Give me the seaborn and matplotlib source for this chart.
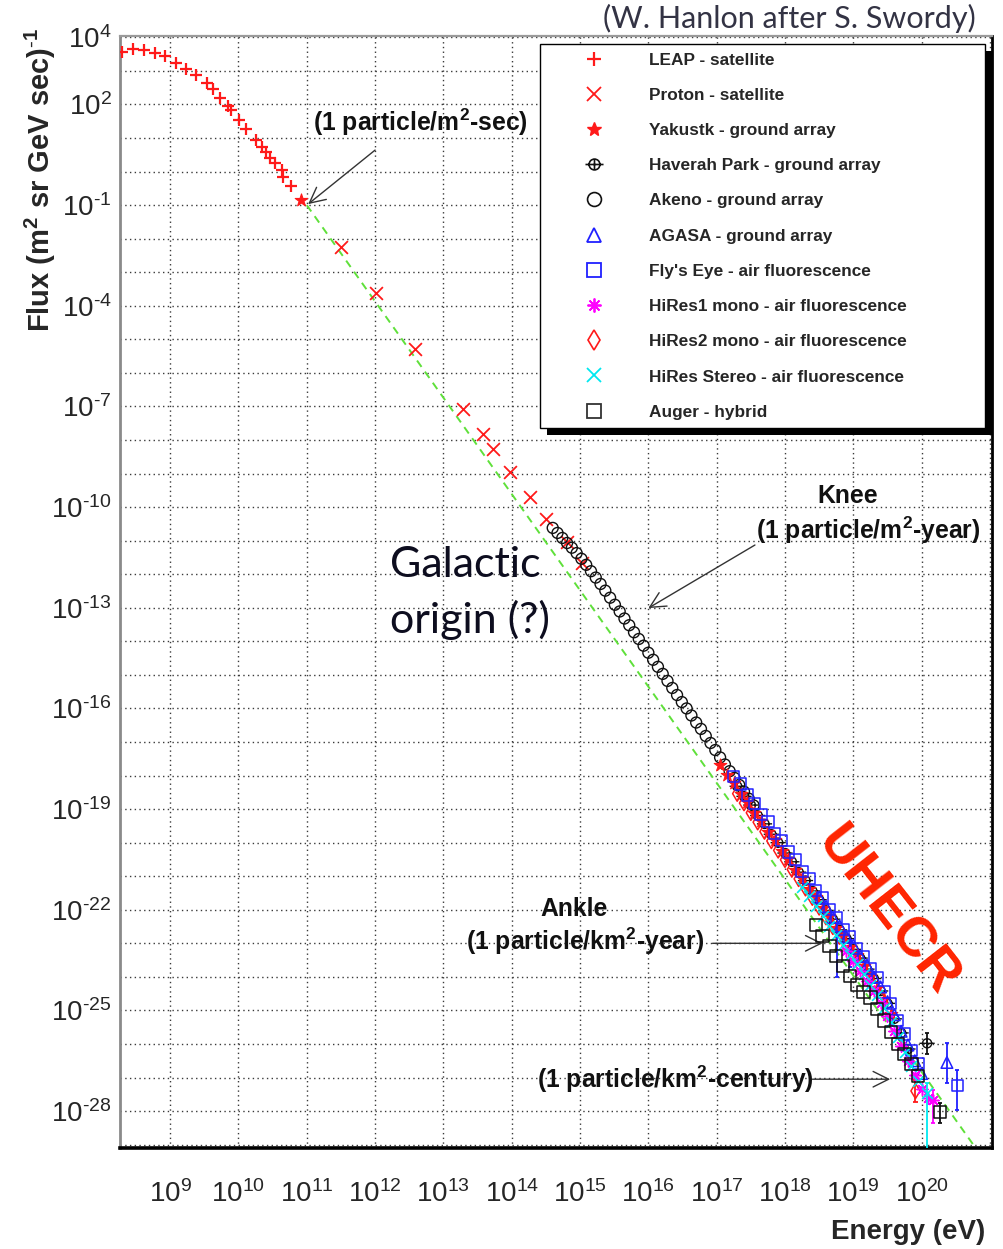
import numpy as np
import pandas as pd
import matplotlib
matplotlib.use("Agg")
import matplotlib.pyplot as plt
import seaborn as sns
from matplotlib import font_manager
from matplotlib.lines import Line2D
from matplotlib.patches import Rectangle
from matplotlib.path import Path
from matplotlib.markers import MarkerStyle
from matplotlib.ticker import FixedLocator, FuncFormatter, LogLocator, NullFormatter
from matplotlib.transforms import IdentityTransform

# ---------------------------------------------------------------- data (log10 values)
leap_logE = [8.29, 8.46, 8.61, 8.78, 8.93, 9.08, 9.23, 9.38, 9.54, 9.63, 9.73, 9.85,
             9.89, 10.01, 10.11, 10.26, 10.34, 10.41, 10.46, 10.54, 10.63, 10.65, 10.77]
leap_logF = [3.57, 3.64, 3.62, 3.54, 3.44, 3.24, 3.07, 2.87, 2.64, 2.45, 2.18, 1.95,
             1.83, 1.55, 1.28, 0.94, 0.74, 0.59, 0.39, 0.26, 0.06, -0.16, -0.43]

proton_logE = [11.50, 12.01, 12.59, 13.28, 13.58, 13.72, 13.98, 14.27, 14.50, 14.81, 15.03]
proton_logF = [-2.26, -3.63, -5.30, -7.09, -7.83, -8.28, -8.95, -9.69, -10.34, -11.04, -11.68]

yakutsk_logE = [10.92, 17.05, 17.15, 17.25, 17.35, 17.45, 17.55, 17.65, 17.75, 17.85, 17.95,
                18.05, 18.15, 18.25, 18.35, 18.45, 18.55, 18.65, 18.75, 18.85, 18.95, 19.05,
                19.15, 19.25, 19.35, 19.45, 19.55]
yakutsk_logF = [-0.86, -17.69, -17.99, -18.23, -18.55, -18.80, -19.12, -19.36, -19.68, -19.92,
                -20.24, -20.49, -20.81, -21.05, -21.37, -21.62, -21.95, -22.20, -22.53, -22.78,
                -23.11, -23.36, -23.69, -23.96, -24.32, -24.65, -25.11]

haverah_logE = [17.3, 17.4, 17.5, 17.6, 17.7, 17.8, 17.9, 18.0, 18.1, 18.2, 18.3, 18.4, 18.5,
                18.6, 18.7, 18.8, 18.9, 19.0, 19.1, 19.2, 19.3, 19.4, 19.5, 19.6, 19.7, 19.8, 20.08]
haverah_logF = [-18.32, -18.62, -18.88, -19.19, -19.44, -19.75, -20.00, -20.31, -20.57, -20.88,
                -21.13, -21.44, -21.70, -22.02, -22.28, -22.60, -22.86, -23.18, -23.44, -23.77,
                -24.05, -24.42, -24.79, -25.25, -25.67, -26.15, -25.98]
haverah_err_E = [20.08]
haverah_err_lo = [-26.30]
haverah_err_hi = [-25.68]

akeno_logE = [14.60, 14.67, 14.74, 14.81, 14.88, 14.95, 15.02, 15.09, 15.16, 15.23, 15.30,
              15.37, 15.44, 15.51, 15.58, 15.65, 15.72, 15.79, 15.86, 15.93, 16.00, 16.07,
              16.14, 16.21, 16.28, 16.35, 16.42, 16.49, 16.56, 16.63, 16.70, 16.77, 16.84,
              16.91, 16.98, 17.05, 17.12, 17.19, 17.26, 17.33, 17.40, 17.47, 17.54]
akeno_logF = [-10.62, -10.77, -10.92, -11.07, -11.21, -11.37, -11.54, -11.72, -11.91, -12.10,
              -12.29, -12.49, -12.70, -12.91, -13.11, -13.32, -13.52, -13.73, -13.93, -14.13,
              -14.34, -14.55, -14.76, -14.97, -15.18, -15.39, -15.60, -15.81, -16.00, -16.21,
              -16.42, -16.61, -16.82, -17.03, -17.24, -17.46, -17.67, -17.87, -18.07, -18.28,
              -18.48, -18.69, -18.89]

agasa_logE = [18.5, 18.6, 18.7, 18.8, 18.9, 19.0, 19.1, 19.2, 19.3, 19.4, 19.5, 19.6, 19.7,
              19.8, 19.9, 20.0, 20.37]
agasa_logF = [-21.63, -21.90, -22.23, -22.48, -22.81, -23.06, -23.39, -23.65, -24.00, -24.30,
              -24.74, -25.13, -25.62, -26.03, -26.50, -26.88, -26.55]
agasa_err_E = [20.37]
agasa_err_lo = [-27.17]
agasa_err_hi = [-25.98]

flyseye_logE = [17.25, 17.35, 17.45, 17.55, 17.65, 17.75, 17.85, 17.95, 18.05, 18.15, 18.25,
                18.35, 18.45, 18.55, 18.65, 18.75, 18.85, 18.95, 19.05, 19.15, 19.25, 19.35,
                19.45, 19.55, 19.65, 19.75, 19.85, 19.95, 20.52]
flyseye_logF = [-18.02, -18.25, -18.58, -18.83, -19.16, -19.38, -19.72, -19.94, -20.28, -20.51,
                -20.85, -21.07, -21.42, -21.65, -22.00, -22.23, -22.58, -22.81, -23.16, -23.39,
                -23.76, -24.02, -24.45, -24.80, -25.30, -25.70, -26.20, -26.58, -27.23]
flyseye_err_E = [18.76, 18.95, 20.52]
flyseye_err_lo = [-24.00, -23.70, -27.97]
flyseye_err_hi = [-22.81, -22.90, -26.78]

hires1_logE = [18.9, 19.0, 19.1, 19.2, 19.3, 19.4, 19.5, 19.6, 19.7, 19.8, 19.9, 20.0, 20.1, 20.17]
hires1_logF = [-23.24, -23.53, -23.82, -24.12, -24.43, -24.77, -25.17, -25.60, -26.05, -26.50,
               -26.93, -27.35, -27.60, -27.68]
hires1_err_E = [20.17]
hires1_err_lo = [-28.36]
hires1_err_hi = [-27.38]

hires2_logE = [17.3, 17.4, 17.5, 17.6, 17.7, 17.8, 17.9, 18.0, 18.1, 18.2, 18.3, 18.4, 18.5,
               18.6, 18.7, 18.8, 18.9, 19.0, 19.1, 19.2, 19.3, 19.4, 19.91]
hires2_logF = [-18.54, -18.82, -19.11, -19.39, -19.67, -19.95, -20.23, -20.51, -20.80, -21.08,
               -21.36, -21.64, -21.93, -22.22, -22.51, -22.80, -23.09, -23.38, -23.67, -23.97,
               -24.28, -24.62, -27.40]
hires2_err_E = [19.91]
hires2_err_lo = [-27.74]
hires2_err_hi = [-27.08]

stereo_logE = [18.25, 18.35, 18.45, 18.55, 18.65, 18.75, 18.85, 18.95, 19.05, 19.15, 19.25,
               19.35, 19.45, 19.55, 19.65, 19.75, 19.85, 19.95, 20.08]
stereo_logF = [-21.32, -21.60, -21.89, -22.18, -22.47, -22.76, -23.05, -23.34, -23.63, -23.92,
               -24.23, -24.55, -24.92, -25.34, -25.78, -26.23, -26.67, -27.09, -27.45]
stereo_err_E = [20.08]
stereo_err_lo = [-31.0]
stereo_err_hi = [-27.15]

auger_logE = [18.45, 18.55, 18.65, 18.75, 18.85, 18.95, 19.05, 19.15, 19.25, 19.35, 19.45,
              19.55, 19.65, 19.75, 19.85, 19.95, 20.27]
auger_logF = [-22.45, -22.78, -23.08, -23.38, -23.68, -23.98, -24.25, -24.45, -24.62, -24.95,
              -25.30, -25.65, -26.00, -26.30, -26.60, -26.95, -28.02]
auger_err_E = [20.27]
auger_err_lo = [-28.36]
auger_err_hi = [-27.76]

# E^-2.87 reference line from 1 particle/m^2-sec
powerlaw_logE = [11.0, 20.78]
powerlaw_logF = [-1.0, -29.07]

x_label_exps = list(range(9, 21))
y_label_exps = [4, 2, -1, -4, -7, -10, -13, -16, -19, -22, -25, -28]

series_names = ["LEAP - satellite", "Proton - satellite", "Yakustk - ground array",
                "Haverah Park - ground array", "Akeno - ground array", "AGASA - ground array",
                "Fly's Eye - air fluorescence", "HiRes1 mono - air fluorescence",
                "HiRes2 mono - air fluorescence", "HiRes Stereo - air fluorescence",
                "Auger - hybrid"]

# ---------------------------------------------------------------- style
sns.set_style("white")
installed = {f.name for f in font_manager.fontManager.ttflist}
SANS = "Liberation Sans" if "Liberation Sans" in installed else "DejaVu Sans"
HUMAN = "Lato" if "Lato" in installed else SANS
plt.rcParams["font.family"] = [SANS, "DejaVu Sans"]
plt.rcParams["mathtext.default"] = "regular"
plt.rcParams["mathtext.fontset"] = "custom"
plt.rcParams["mathtext.rm"] = SANS
plt.rcParams["mathtext.bf"] = SANS + ":bold"

RED = "#ff1a1a"
BLUE = "#2020ff"
MAGENTA = "#ff00ff"
CYAN = "#00e8f0"
BLACK = "#111111"

W, H = 1004, 1249
fig = plt.figure(figsize=(W / 100, H / 100), dpi=100)
ax = fig.add_axes([120 / W, 1 - 1148 / H, 872 / W, 1112 / H])
ax.set_xscale("log")
ax.set_yscale("log")
ax.set_xlim(10 ** 8.266, 10 ** 21.03)
ax.set_ylim(10 ** -29.1, 10 ** 4.04)


def p10(v):
    return np.power(10.0, np.asarray(v, dtype=float))


# circle with a cross through it
_circ = Path.unit_circle()
_circ = Path(_circ.vertices * 0.6, _circ.codes)
_h = Path([(-1, 0), (1, 0)], [Path.MOVETO, Path.LINETO])
_v = Path([(0, -0.6), (0, 0.6)], [Path.MOVETO, Path.LINETO])
HP_MARKER = MarkerStyle(Path.make_compound_path(_circ, _h, _v))
ASTERISK = (8, 2, 0)


def draw(loge, logf, marker, color, size, hollow, lw=1.0, z=3):
    df = pd.DataFrame({"E": p10(loge), "F": p10(logf)})
    if hollow:
        sns.scatterplot(data=df, x="E", y="F", marker=marker, s=size, facecolor="none",
                        edgecolor=color, linewidth=lw, ax=ax, legend=False, zorder=z)
    else:
        sns.scatterplot(data=df, x="E", y="F", marker=marker, s=size, color=color,
                        edgecolor=color, linewidth=lw, ax=ax, legend=False, zorder=z)


def bars(loge, lo, hi, color):
    e = np.asarray(loge, dtype=float)
    ax.vlines(p10(e), p10(lo), p10(hi), color=color, lw=1.3, zorder=3)
    ax.hlines(p10(lo), p10(e - 0.03), p10(e + 0.03), color=color, lw=1.3, zorder=3)
    ax.hlines(p10(hi), p10(e - 0.03), p10(e + 0.03), color=color, lw=1.3, zorder=3)


# reference power law
ax.plot(p10(powerlaw_logE), p10(powerlaw_logF), color="#5fe03a", lw=1.4,
        ls=(0, (4, 3)), zorder=2)

draw(leap_logE, leap_logF, "+", RED, 85, False, 1.6)
draw(proton_logE, proton_logF, "x", RED, 85, False, 1.3)
draw(akeno_logE, akeno_logF, "o", BLACK, 62, True, 1.0)
draw(haverah_logE, haverah_logF, HP_MARKER, BLACK, 120, True, 1.0)
bars(haverah_err_E, haverah_err_lo, haverah_err_hi, BLACK)
draw(hires2_logE, hires2_logF, "d", RED, 60, True, 1.1)
bars(hires2_err_E, hires2_err_lo, hires2_err_hi, RED)
draw(yakutsk_logE, yakutsk_logF, "*", RED, 90, False, 0.8)
draw(flyseye_logE, flyseye_logF, "s", BLUE, 65, True, 1.1)
bars(flyseye_err_E, flyseye_err_lo, flyseye_err_hi, BLUE)
draw(agasa_logE, agasa_logF, "^", BLUE, 70, True, 1.1)
bars(agasa_err_E, agasa_err_lo, agasa_err_hi, BLUE)
draw(hires1_logE, hires1_logF, ASTERISK, MAGENTA, 65, False, 1.1)
bars(hires1_err_E, hires1_err_lo, hires1_err_hi, MAGENTA)
draw(stereo_logE, stereo_logF, "x", CYAN, 60, False, 1.2)
bars(stereo_err_E, stereo_err_lo, stereo_err_hi, CYAN)
draw(auger_logE, auger_logF, "s", BLACK, 80, True, 1.1, z=4)
bars(auger_err_E, auger_err_lo, auger_err_hi, BLACK)

# ---------------------------------------------------------------- axes dressing
def power_label(v, shown):
    n = int(round(np.log10(v)))
    if n not in shown:
        return ""
    if n < 0:
        return r"$10^{\text{-}%d}$" % (-n)
    return r"$10^{%d}$" % n


ax.xaxis.set_major_locator(FixedLocator(p10(np.arange(8, 22))))
ax.xaxis.set_minor_locator(LogLocator(base=10, subs=np.arange(2, 10), numticks=200))
ax.xaxis.set_minor_formatter(NullFormatter())
ax.xaxis.set_major_formatter(FuncFormatter(lambda v, pos: power_label(v, x_label_exps)))

ax.yaxis.set_major_locator(FixedLocator(p10(np.arange(-29, 5))))
ax.yaxis.set_minor_locator(FixedLocator(5 * p10(np.arange(-30, 4))))
ax.yaxis.set_minor_formatter(NullFormatter())
ax.yaxis.set_major_formatter(FuncFormatter(lambda v, pos: power_label(v, y_label_exps)))

ax.tick_params(axis="x", which="major", direction="in", length=24, width=1.3, top=False,
               pad=23, labelsize=20, color="#111111")
ax.tick_params(axis="x", which="minor", direction="in", length=9, width=1.0, top=False, color="#111111")
ax.tick_params(axis="y", which="major", direction="in", length=18, width=1.4, right=False,
               pad=6, labelsize=20, color="#111111")
ax.tick_params(axis="y", which="minor", direction="in", length=10, width=1.0, right=False, color="#111111")

ax.grid(True, which="major", color="#3a3a3a", lw=1.0, ls=(0, (1, 2.4)))
ax.set_axisbelow(True)
for side, col, lw in [("left", "#8a8a8a", 2.0), ("top", "#9a9a9a", 1.6),
                      ("right", "#000000", 2.0), ("bottom", "#000000", 2.6)]:
    ax.spines[side].set_color(col)
    ax.spines[side].set_linewidth(lw)
ax.set_xlabel("")
ax.set_ylabel("")

# ---------------------------------------------------------------- legend
legend_styles = [
    dict(marker="+", color=RED, mfc=RED, mew=1.6),
    dict(marker="x", color=RED, mfc=RED, mew=1.3),
    dict(marker="*", color=RED, mfc=RED, mew=1.0),
    dict(marker=HP_MARKER, color=BLACK, mfc="none", mew=1.2),
    dict(marker="o", color=BLACK, mfc="none", mew=1.2),
    dict(marker="^", color=BLUE, mfc="none", mew=1.3),
    dict(marker="s", color=BLUE, mfc="none", mew=1.3),
    dict(marker=ASTERISK, color=MAGENTA, mfc=MAGENTA, mew=1.3),
    dict(marker="d", color=RED, mfc="none", mew=1.2),
    dict(marker="x", color=CYAN, mfc=CYAN, mew=1.3),
    dict(marker="s", color="#333333", mfc="none", mew=1.3),
]
handles = [Line2D([], [], ls="none", ms=10, **st) for st in legend_styles]
handles[3].set_markersize(13)
leg = ax.legend(handles, series_names, loc="upper left",
                bbox_to_anchor=(420 / 872, (1148 - 430) / 1112, 445 / 872, 386 / 1112),
                mode="expand", frameon=True, fancybox=False, framealpha=1,
                edgecolor="#000000", facecolor="white", borderpad=0.5,
                labelspacing=1.17, handlelength=5.28, handletextpad=0.56,
                borderaxespad=0, prop=dict(family=SANS, weight="bold", size=12.4))
leg.get_frame().set_linewidth(1.0)
leg.set_zorder(6)


def fx(x):
    return x / W


def fy(y):
    return 1 - y / H


# ---------------------------------------------------------------- annotations
arrow = dict(arrowstyle="->", color="#333333", lw=1.0, mutation_scale=28, shrinkA=0, shrinkB=0)
ax.annotate("", xy=(p10(11.02), p10(-0.97)), xytext=(p10(12.0), p10(0.64)), arrowprops=arrow)
ax.annotate("", xy=(p10(16.0), p10(-13.01)), xytext=(p10(17.56), p10(-11.13)), arrowprops=arrow)
ax.annotate("", xy=(p10(18.55), p10(-23.0)), xytext=(p10(16.94), p10(-23.0)), arrowprops=arrow)
ax.annotate("", xy=(p10(19.54), p10(-27.05)), xytext=(p10(18.40), p10(-27.05)), arrowprops=arrow)

bold = dict(family=SANS, weight="bold", size=17.8, color="#111111", ha="center", va="center")
fig.text(fx(420), fy(122), r"(1 particle/m$^2$-sec)", **bold)
fig.text(fx(848), fy(496), "Knee", **bold)
fig.text(fx(868), fy(530), r"(1 particle/m$^2$-year)", **bold)
fig.text(fx(574), fy(909), "Ankle", **bold)
fig.text(fx(585), fy(941), r"(1 particle/km$^2$-year)", **bold)
fig.text(fx(675), fy(1079), r"(1 particle/km$^2$-century)", **bold)

fig.text(fx(390), fy(565), "Galactic", family=HUMAN, size=31, color="#0d0d1f", ha="left", va="center")
fig.text(fx(390), fy(620), "origin (?)", family=HUMAN, size=31, color="#0d0d1f", ha="left", va="center")

fig.text(fx(887), fy(912), "UHECR", family=SANS, weight="bold", size=40, color="#ff2400",
         rotation=-52, rotation_mode="anchor", ha="center", va="center")

fig.text(fx(789), fy(18), "(W. Hanlon after S. Swordy)", family=HUMAN, size=22,
         color="#333344", ha="center", va="center")

fig.text(fx(40), fy(28), r"Flux (m$^2$ sr GeV sec)$^{\text{-}1}$", family=SANS, weight="bold",
         size=21, rotation=90, ha="center", va="top")
fig.text(fx(985), fy(1232), "Energy (eV)", family=SANS, weight="bold", size=20,
         ha="right", va="center")

# drop shadow behind the legend box
fig.canvas.draw()
bb = leg.get_window_extent()
shadow = Rectangle((bb.x0 + 7, bb.y0 - 7), bb.width, bb.height, transform=IdentityTransform(),
                   facecolor="black", edgecolor="none", zorder=5.5, clip_on=False)
ax.add_patch(shadow)

fig.savefig("out.png", dpi=100)
